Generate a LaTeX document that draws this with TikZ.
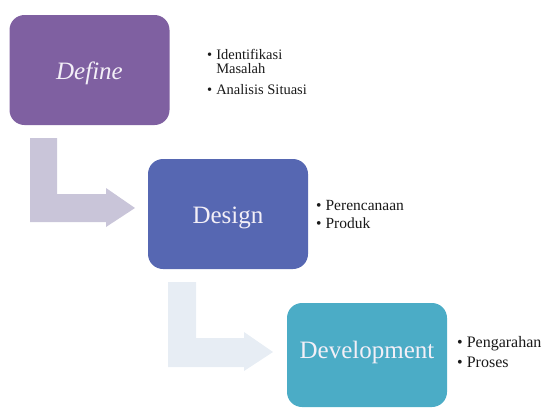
\documentclass[tikz,border=0pt]{standalone}
\usepackage{fontspec}
\setmainfont{Liberation Serif}
\usepackage{tikz}
\usetikzlibrary{positioning}
\definecolor{definefill}{HTML}{7F60A1}
\definecolor{designfill}{HTML}{5667B2}
\definecolor{devfill}{HTML}{4BACC6}
\definecolor{arrowone}{HTML}{C9C5D9}
\definecolor{arrowtwo}{HTML}{E7EDF4}
\definecolor{labeltext}{HTML}{F3EFF7}
\tikzset{
  stage/.style={rounded corners=15pt,minimum width=160pt,minimum height=110pt,
    inner sep=0pt,text=labeltext,font=\fontsize{25}{30}\selectfont,
    text height=18pt,text depth=0pt},
  bullets/.style={anchor=north west,inner sep=0pt,text=black!90,align=left}
}
\newcommand{\bulletlist}[1]{\begin{tabular}{@{}l@{\hspace{4pt}}l@{}}#1\end{tabular}}

\begin{document}
\begin{tikzpicture}[x=1pt,y=-1pt]
  \useasboundingbox (0,0) rectangle (552,408);

  % --- bent arrows ---
  \fill[arrowone] (30,138) -- (57,138) -- (57,194) -- (106,194) -- (106,188)
    -- (135,208) -- (106,227) -- (106,222) -- (30,222) -- cycle;
  \fill[arrowtwo] (168,282) -- (196,282) -- (196,338) -- (244,338) -- (244,332)
    -- (273,352) -- (244,371) -- (244,367) -- (168,367) -- cycle;

  % --- stages ---
  \node[stage,fill=definefill] (define) at (89.5,70) {\itshape Define};
  \node[stage,fill=designfill] (design) at (228,214) {Design};
  \node[stage,fill=devfill,minimum height=104pt,text height=6pt] (development)
    at (367,355) {Development};

  % --- bullet lists ---
  \node[bullets,font=\fontsize{14.5}{14}\selectfont] (definelist) at (207,49.2)
    {\bulletlist{\textbullet & Identifikasi\\ & Masalah\\[6pt] \textbullet & Analisis Situasi}};
  \node[bullets,font=\fontsize{15.5}{18}\selectfont] (designlist) at (316,197.4)
    {\bulletlist{\textbullet & Perencanaan\\ \textbullet & Produk}};
  \node[bullets,font=\fontsize{16}{20}\selectfont] (devlist) at (457,333)
    {\bulletlist{\textbullet & Pengarahan\\ \textbullet & Proses}};
\end{tikzpicture}
\end{document}
